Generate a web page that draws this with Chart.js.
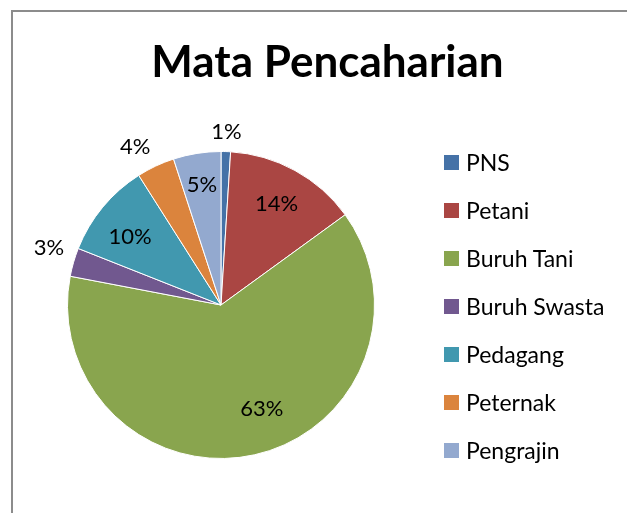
<!DOCTYPE html>
<html>
<head>
<meta charset="utf-8">
<script src="https://cdn.jsdelivr.net/npm/chart.js@4"></script>
<style>
  html, body { margin: 0; padding: 0; background: #fff; }
  body { width: 627px; height: 513px; position: relative; overflow: hidden; font-family: Lato, "Open Sans", sans-serif; }
  .frame { position: absolute; left: 11px; top: 10px; right: -10px; bottom: -10px; border-left: 2px solid #8c8c8c; border-top: 2px solid #8c8c8c; }
  #chartWrap { position: absolute; left: 0; top: 0; width: 627px; height: 513px; }
  .title { position: absolute; left: 0; width: 655px; top: 32px; text-align: center; font-weight: bold; font-size: 44px; color: #000; line-height: 56px; }
  .legend { position: absolute; left: 444px; top: 138px; }
  .legend-item { height: 48px; display: flex; align-items: center; font-size: 23px; color: #000; white-space: nowrap; }
  .legend-dot { width: 15px; height: 15px; margin-right: 7px; }
</style>
</head>
<body>
<div class="frame"></div>
<div id="chartWrap"><canvas id="pieChart" width="627" height="513"></canvas></div>
<div class="title" id="chartTitle"></div>
<div class="legend" id="pieLegend"></div>
<script>
// === DATA ===
var titleText = 'Mata Pencaharian';
var categories = ['PNS', 'Petani', 'Buruh Tani', 'Buruh Swasta', 'Pedagang', 'Peternak', 'Pengrajin'];
var percentValues = [1, 14, 63, 3, 10, 4, 5];
var sliceColors = ['#4572A7', '#AA4643', '#89A54E', '#71588F', '#4198AF', '#DB843D', '#93A9CF'];

// label placement: inside (fraction of radius) or outside (px beyond edge),
// plus a small angular nudge (degrees) like Excel's "best fit"
var labelPlacement = [
  { outside: true, dist: 20, shift: 0 },
  { outside: false, dist: 0.75, shift: 0 },
  { outside: false, dist: 0.73, shift: -8.7 },
  { outside: true, dist: 28, shift: 2.3 },
  { outside: false, dist: 0.74, shift: -2.8 },
  { outside: true, dist: 26, shift: -3.4 },
  { outside: false, dist: 0.79, shift: 0 }
];

document.getElementById('chartTitle').textContent = titleText;

// Build legend
var legendHtml = '';
categories.forEach(function(c, i) {
  legendHtml += '<div class="legend-item"><div class="legend-dot" style="background:' + sliceColors[i] + '"></div>' + c + '</div>';
});
document.getElementById('pieLegend').innerHTML = legendHtml;

// Draws percentage labels on / next to each slice
var pieLabels = {
  id: 'pieLabels',
  afterDatasetsDraw: function(chart) {
    var ctx = chart.ctx;
    var meta = chart.getDatasetMeta(0);
    ctx.save();
    ctx.font = '22px Lato, "Open Sans", sans-serif';
    ctx.fillStyle = '#000';
    ctx.textAlign = 'center';
    ctx.textBaseline = 'middle';
    meta.data.forEach(function(arc, i) {
      var p = labelPlacement[i];
      var mid = (arc.startAngle + arc.endAngle) / 2 + p.shift * Math.PI / 180;
      var r = p.outside ? arc.outerRadius + p.dist : arc.outerRadius * p.dist;
      var x = arc.x + Math.cos(mid) * r;
      var y = arc.y + Math.sin(mid) * r;
      ctx.fillText(percentValues[i] + '%', x, y);
    });
    ctx.restore();
  }
};

new Chart(document.getElementById('pieChart'), {
  type: 'pie',
  data: {
    labels: categories,
    datasets: [{
      data: percentValues,
      backgroundColor: sliceColors,
      borderColor: '#ffffff',
      borderWidth: 1
    }]
  },
  options: {
    responsive: false,
    animation: false,
    layout: { padding: { left: 67, right: 252, top: 151, bottom: 54 } },
    plugins: {
      legend: { display: false },
      title: { display: false },
      tooltip: { enabled: false }
    }
  },
  plugins: [pieLabels]
});
</script>
</body>
</html>
